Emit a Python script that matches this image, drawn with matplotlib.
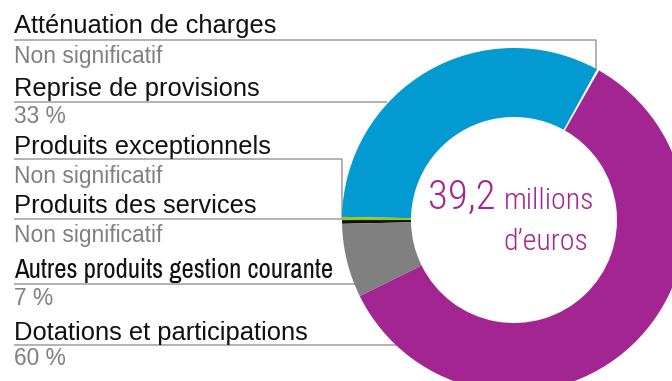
import matplotlib
matplotlib.use("Agg")
import matplotlib.pyplot as plt
from matplotlib import font_manager as fm
from matplotlib.font_manager import FontProperties

# Recettes de fonctionnement (parts en %)
categories = [
    "Atténuation de charges",
    "Reprise de provisions",
    "Produits exceptionnels",
    "Produits des services",
    "Autres produits gestion courante",
    "Dotations et participations",
]
shares = [0.22, 33, 0.3, 0.35, 7, 60]
share_labels = ["Non significatif", "33 %", "Non significatif", "Non significatif", "7 %", "60 %"]
colors = ["#ffffff", "#0399d1", "#9dc41a", "#111111", "#808080", "#a32592"]
total_label = "39,2"
total_unit = "millions"
total_unit2 = "d\u2019euros"

installed = {f.name for f in fm.fontManager.ttflist}


def pick(*names):
    for n in names:
        if n in installed:
            return n
    return "DejaVu Sans"


def light_condensed(families, lo=250, hi=350):
    for fam in families:
        for f in fm.fontManager.ttflist:
            w = f.weight if isinstance(f.weight, int) else 400
            if f.name == fam and f.style == "normal" and lo <= w <= hi:
                return f.fname
    return None


narrow = pick("Liberation Sans Narrow", "Arial Narrow", "Archivo Narrow",
              "PT Sans Narrow", "Roboto Condensed", "IBM Plex Sans Condensed")
thin_file = light_condensed(["Open Sans Condensed", "Roboto Condensed",
                             "IBM Plex Sans Condensed", "Encode Sans Condensed"])


def center_font(size):
    if thin_file:
        return FontProperties(fname=thin_file, size=size)
    return FontProperties(family="DejaVu Sans", weight="light", stretch="condensed", size=size)


W, H = 672, 381
fig = plt.figure(figsize=(W / 100, H / 100), dpi=100)
ax = fig.add_axes([0, 0, 1, 1])

cx, cy = 514, H - 220
R_out, R_in = 172, 103

ax.pie(shares, colors=colors, startangle=60.4, counterclock=True,
       radius=R_out, center=(cx, cy),
       wedgeprops=dict(width=R_out - R_in, linewidth=0, antialiased=True))

ax.set_xlim(0, W)
ax.set_ylim(0, H)
ax.set_aspect("equal")
ax.axis("off")

# label layout (pixels from top)
baselines = [33.3, 95.7, 154, 213.3, 278.3, 340]
sub_baselines = [63.3, 123, 183.3, 241.7, 305, 365]
connectors = [
    [(14, 40), (596, 40), (596, 73)],
    [(14, 102), (387, 102)],
    [(14, 159), (342, 159), (342, 218)],
    [(14, 219.3), (342, 219.3)],
    [(14, 283.5), (357, 283.5)],
    [(14, 345), (400, 345)],
]

for pts in connectors:
    xs = [p[0] for p in pts]
    ys = [H - p[1] for p in pts]
    ax.plot(xs, ys, color="#9e9e9e", lw=1.1, zorder=0, solid_capstyle="butt")

for i, (name, sub) in enumerate(zip(categories, share_labels)):
    if name.startswith("Autres"):
        ax.text(14, H - baselines[i], name, fontsize=19.3,
                family=narrow, color="#111111", va="baseline", ha="left")
    else:
        ax.text(14, H - baselines[i], name, fontsize=18.4,
                family="Liberation Sans", color="#111111",
                va="baseline", ha="left")
    ax.text(14, H - sub_baselines[i], sub, fontsize=16.4,
            family="Liberation Sans", color="#808080",
            va="baseline", ha="left")

# total in the middle of the ring
purple = "#a32592"
ax.text(496, H - 209, total_label, fontproperties=center_font(29.5), color=purple,
        ha="right", va="baseline")
ax.text(504, H - 209, total_unit, fontproperties=center_font(21.5), color=purple,
        ha="left", va="baseline")
ax.text(588, H - 250, total_unit2, fontproperties=center_font(21.5), color=purple,
        ha="right", va="baseline")

fig.savefig("out.png", dpi=100)
